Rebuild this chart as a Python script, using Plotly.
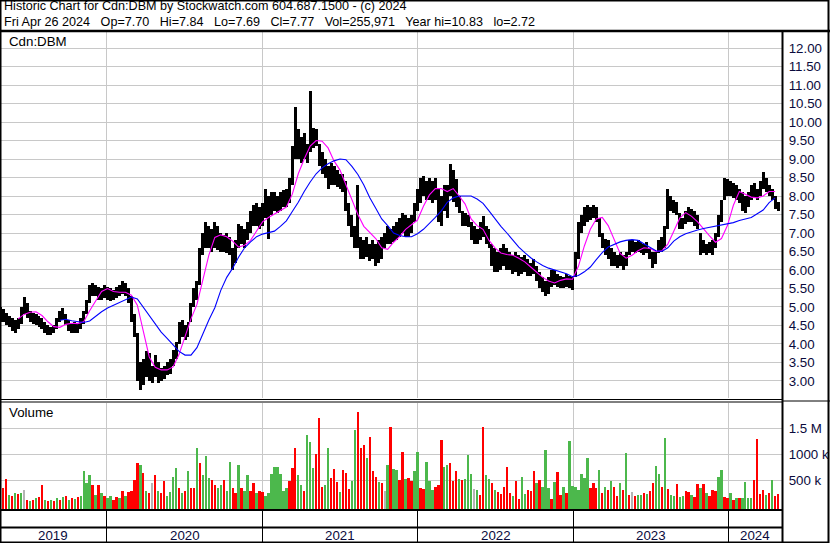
import pandas as pd
import plotly.graph_objects as go

W, H = 830, 543

# weekly bars, Friday closes, Apr 26 2019 .. Apr 26 2024
week_end = pd.date_range("2019-04-26", "2024-04-26", freq="W-FRI")

high = [
    # 2019
    5.0, 4.95, 4.85, 4.75, 4.7, 4.65, 4.7, 5.0, 5.27, 5.1,
    4.9, 4.85, 4.8, 4.75, 4.7, 4.6, 4.5, 4.45, 4.5, 4.7,
    4.9, 4.97, 4.8, 4.65, 4.55, 4.6, 4.55, 4.7, 4.9, 5.2,
    5.6, 5.65, 5.6, 5.55, 5.5, 5.6,
    # 2020
    5.55, 5.5, 5.45, 5.55, 5.6, 5.7, 5.65, 5.5, 5.3, 4.8,
    4.3, 3.5, 3.6, 3.8, 3.75, 3.4, 3.7, 3.5, 3.35, 3.4,
    3.5, 3.6, 3.85, 4.05, 4.6, 4.65, 4.5, 4.6, 5.1, 5.5,
    5.7, 6.6, 7.0, 7.3, 7.2, 7.1, 7.3, 7.2, 7.0, 6.95,
    7.0, 6.9, 6.6, 6.8, 7.25, 7.2, 7.1, 7.3, 7.6, 7.75,
    7.8, 7.7, 7.8,
    # 2021
    8.2, 8.0, 8.1, 8.1, 8.0, 8.1, 8.15, 8.2, 8.5, 9.35,
    10.4, 9.8, 9.6, 9.7, 9.4, 10.83, 9.85, 9.8, 9.4, 9.2,
    9.0, 8.8, 8.9, 8.8, 8.7, 8.6, 8.6, 8.4, 7.8, 7.5,
    7.2, 8.3, 6.9, 6.8, 6.9, 6.7, 6.8, 6.7, 6.8, 6.9,
    7.0, 7.2, 7.1, 7.2, 7.3, 7.4, 7.55, 7.5, 7.4, 7.5,
    7.8,
    # 2022
    8.2, 8.5, 8.55, 8.4, 8.5, 8.4, 8.5, 8.2, 8.0, 8.3,
    8.3, 8.87, 8.7, 8.45, 8.0, 7.6, 7.55, 7.5, 7.3, 7.2,
    7.1, 7.3, 7.45, 7.2, 7.1, 6.7, 6.6, 6.5, 6.6, 6.7,
    6.6, 6.5, 6.4, 6.5, 6.4, 6.35, 6.4, 6.3, 6.2, 6.3,
    6.1, 5.95, 5.8, 5.7, 5.8, 6.0, 6.0, 5.9, 5.85, 5.8,
    5.9, 5.85, 5.8,
    # 2023
    6.5, 7.3, 7.5, 7.7, 7.75, 7.7, 7.75, 7.7, 7.4, 7.0,
    6.85, 6.8, 6.6, 6.5, 6.4, 6.5, 6.4, 6.5, 6.8, 6.8,
    6.75, 6.8, 6.75, 6.7, 6.75, 6.6, 6.5, 6.5, 6.8, 6.9,
    7.2, 8.18, 8.0, 7.9, 7.85, 7.55, 7.4, 7.6, 7.7, 7.65,
    7.6, 7.5, 7.0, 6.8, 6.7, 6.75, 6.8, 7.0, 7.5, 7.9,
    8.5, 8.45,
    # 2024
    8.4, 8.35, 8.3, 8.2, 8.1, 8.0, 8.1, 8.3, 8.35, 8.2,
    8.4, 8.65, 8.5, 8.3, 8.2, 8.0, 7.84,
]

low = [
    # 2019
    4.6, 4.6, 4.5, 4.45, 4.35, 4.3, 4.4, 4.55, 4.8, 4.7,
    4.6, 4.55, 4.5, 4.45, 4.4, 4.3, 4.25, 4.25, 4.3, 4.4,
    4.6, 4.65, 4.5, 4.35, 4.3, 4.3, 4.3, 4.4, 4.55, 4.8,
    5.1, 5.3, 5.3, 5.2, 5.2, 5.25,
    # 2020
    5.2, 5.15, 5.2, 5.25, 5.3, 5.35, 5.3, 5.1, 4.6, 4.2,
    3.0, 2.75, 2.9, 3.1, 3.0, 2.95, 3.1, 2.95, 3.0, 3.05,
    3.15, 3.2, 3.4, 3.6, 4.0, 4.2, 4.1, 4.2, 4.6, 5.0,
    5.2, 5.6, 6.4, 6.6, 6.6, 6.5, 6.6, 6.55, 6.5, 6.5,
    6.45, 6.4, 6.0, 6.2, 6.6, 6.7, 6.6, 6.8, 7.0, 7.2,
    7.2, 7.1, 7.2,
    # 2021
    7.4, 6.85, 7.5, 7.6, 7.55, 7.6, 7.7, 7.7, 7.8, 8.3,
    9.0, 9.0, 8.9, 9.0, 8.9, 9.2, 9.3, 9.35, 8.8, 8.6,
    8.5, 8.2, 8.3, 8.3, 8.25, 8.2, 8.1, 7.6, 7.2, 6.9,
    6.6, 6.6, 6.3, 6.3, 6.35, 6.25, 6.3, 6.1, 6.2, 6.3,
    6.6, 6.7, 6.7, 6.75, 6.8, 6.9, 7.0, 6.9, 6.9, 7.0,
    7.3,
    # 2022
    7.6, 7.8, 8.0, 7.9, 7.9, 7.8, 7.9, 7.3, 7.2, 7.6,
    7.4, 8.0, 7.85, 7.7, 7.55, 7.2, 7.2, 7.15, 6.8, 6.7,
    6.7, 6.8, 6.9, 6.7, 6.6, 6.1, 5.95, 5.95, 6.0, 6.1,
    6.0, 6.0, 5.9, 5.95, 5.85, 5.9, 5.95, 5.85, 5.85, 5.9,
    5.7, 5.5, 5.4, 5.3, 5.35, 5.55, 5.6, 5.55, 5.5, 5.5,
    5.55, 5.5, 5.45,
    # 2023
    5.8, 6.3, 7.0, 7.2, 7.3, 7.35, 7.4, 7.3, 6.9, 6.6,
    6.4, 6.3, 6.1, 6.1, 6.05, 6.1, 6.0, 6.1, 6.4, 6.5,
    6.45, 6.5, 6.45, 6.4, 6.45, 6.3, 6.05, 6.15, 6.45, 6.5,
    6.6, 7.1, 7.6, 7.55, 7.5, 7.1, 7.1, 7.25, 7.3, 7.3,
    7.2, 7.1, 6.4, 6.45, 6.4, 6.45, 6.4, 6.6, 6.9, 7.3,
    7.9, 8.0,
    # 2024
    8.0, 7.95, 7.9, 7.8, 7.6, 7.55, 7.7, 7.9, 7.95, 7.9,
    8.0, 8.2, 8.1, 8.0, 7.9, 7.65, 7.6,
]

# weekly volume, thousands of shares
volume = [
    220, 350, 525, 220, 200, 250, 230, 260, 315, 120,
    110, 130, 150, 180, 400, 120, 100, 130, 110, 150,
    120, 170, 200, 130, 150, 140, 180, 200, 680, 440,
    600, 400, 220, 400, 250, 200, 150, 200, 130, 180,
    150, 300, 200, 280, 300, 500, 830, 795, 640, 300,
    250, 450, 600, 300, 250, 490, 200, 280, 570, 730,
    350, 250, 300, 670, 350, 350, 1130, 830, 600, 970,
    550, 500, 400, 350, 400, 500, 300, 860, 350, 250,
    795, 350, 300, 600, 300, 440, 250, 300, 280, 200,
    250, 620, 760, 760, 620, 300, 350, 490, 730, 1130,
    600, 410, 300, 1370, 1240, 730, 1000, 1690, 380, 400,
    1130, 540, 710, 470, 280, 700, 635, 330, 480, 1470,
    1810, 1130, 1180, 920, 1330, 680, 560, 470, 440, 300,
    800, 1530, 710, 690, 500, 1050, 520, 540, 490, 680,
    1050, 360, 330, 850, 480, 320, 370, 410, 1280, 760,
    790, 840, 480, 670, 530, 500, 520, 990, 620, 330,
    320, 220, 1520, 600, 520, 450, 320, 280, 240, 370,
    760, 250, 190, 480, 140, 560, 240, 310, 300, 670,
    440, 500, 370, 1080, 360, 140, 470, 650, 220, 370,
    250, 1260, 390, 380, 320, 620, 540, 920, 350, 450,
    350, 690, 250, 380, 320, 480, 380, 200, 450, 320,
    1030, 220, 280, 200, 220, 220, 250, 230, 300, 440,
    780, 630, 380, 1320, 330, 220, 200, 420, 180, 200,
    290, 280, 220, 180, 420, 350, 420, 250, 200, 320,
    300, 570, 700, 180, 150, 250, 130, 150, 160, 150,
    470, 160, 150, 505, 1300, 230, 320, 220, 250, 500,
    200, 230,
]

# g = up week, r = down week, n = unchanged
vol_dir = (
    "grrgrgrgnr" "grgrrgrgrg" "rgrgrgrggg" "grgrgrggrr" "grgrrrrgrg"
    "rnrgrrgggg" "rgrgrrgrgg" "grrggrggrr" "grggrrgrrg" "gggggggrrr"
    "ggrgggrrrg" "grrrgrrrgg" "rrrgrrrgrn" "grggrrgrrg" "grrgggrrrg"
    "grrrgrgggn" "grrggrgrrr" "rrgrrggrrr" "grgggrgrrg" "rgggggggrr"
    "rgrgrgrrgr" "grnrggrgrr" "ggrgrggrgg" "rrgrrgrgrr" "rggrrgrgrg"
    "gggrrrrgrg" "rr"
)

# moving averages, read every second week
ma_fast = [
    None, None, None, 4.68, 4.8, 4.86, 4.87, 4.77, 4.6, 4.47,
    4.45, 4.53, 4.56, 4.55, 4.6, 4.9, 5.15, 5.42, 5.5, 5.42,
    5.4, 5.4, 5.32, 5.05, 4.35, 3.65, 3.37, 3.3, 3.3, 3.38,
    3.72, 4.2, 4.68, 5.07, 5.75, 6.4, 6.88, 6.95, 6.9, 6.78,
    6.62, 6.67, 6.8, 7.05, 7.3, 7.42, 7.52, 7.62, 7.7, 8.05,
    8.6, 9.0, 9.35, 9.5, 9.48, 9.3, 8.95, 8.7, 8.3, 7.88,
    7.5, 7.18, 7.0, 6.85, 6.6, 6.56, 6.75, 6.9, 7.1, 7.22,
    7.35, 7.72, 8.03, 8.2, 8.2, 8.12, 8.2, 8.0, 7.78, 7.38,
    7.2, 7.1, 6.8, 6.6, 6.46, 6.42, 6.4, 6.32, 6.22, 6.08,
    5.95, 5.8, 5.7, 5.65, 5.72, 5.76, 5.75, 6.1, 6.65, 7.1,
    7.38, 7.42, 7.2, 6.8, 6.45, 6.32, 6.4, 6.52, 6.6, 6.58,
    6.5, 6.52, 6.7, 7.05, 7.4, 7.55, 7.45, 7.3, 7.1, 6.92,
    6.75, 6.85, 7.2, 7.75, 8.12, 8.05, 7.97, 7.95, 8.0, 8.12,
    8.12,
]
ma_slow = [
    None, None, None, None, None, None, None, None, None, None,
    4.64, 4.67, 4.63, 4.6, 4.58, 4.62, 4.75, 4.87, 4.97, 5.05,
    5.13, 5.21, 5.27, 5.22, 5.0, 4.77, 4.53, 4.32, 4.15, 3.97,
    3.8, 3.7, 3.7, 3.9, 4.3, 4.65, 4.98, 5.45, 5.8, 6.05,
    6.35, 6.6, 6.76, 6.9, 6.97, 7.0, 7.05, 7.18, 7.33, 7.58,
    7.83, 8.12, 8.38, 8.6, 8.76, 8.87, 8.95, 9.0, 8.98, 8.8,
    8.58, 8.3, 7.95, 7.67, 7.38, 7.2, 7.0, 6.93, 6.9, 6.9,
    6.98, 7.1, 7.25, 7.42, 7.6, 7.83, 7.95, 8.0, 8.0, 8.0,
    7.92, 7.8, 7.6, 7.38, 7.18, 7.0, 6.8, 6.62, 6.47, 6.33,
    6.22, 6.12, 6.05, 6.0, 5.97, 5.9, 5.82, 5.85, 5.95, 6.08,
    6.28, 6.47, 6.62, 6.7, 6.76, 6.8, 6.82, 6.8, 6.7, 6.6,
    6.52, 6.5, 6.6, 6.78, 6.9, 6.98, 7.04, 7.08, 7.12, 7.15,
    7.18, 7.2, 7.24, 7.28, 7.34, 7.38, 7.42, 7.52, 7.62, 7.82,
    7.95,
]

price_ticks = [3.0 + 0.5 * i for i in range(19)]
vol_ticks = [500, 1000, 1500]
vol_tick_text = ["500 k", "1000 k", "1.5 M"]
years = [2019, 2020, 2021, 2022, 2023, 2024]

title1 = "Historic Chart for Cdn:DBM by Stockwatch.com 604.687.1500 - (c) 2024"
title2 = ("Fri Apr 26 2024\u00a0\u00a0 Op=7.70\u00a0\u00a0 Hi=7.84\u00a0\u00a0 Lo=7.69\u00a0\u00a0 "
          "Cl=7.77\u00a0\u00a0 Vol=255,971\u00a0\u00a0 Year hi=10.83\u00a0\u00a0 lo=2.72")

assert len(high) == len(low) == len(volume) == len(vol_dir) == len(week_end)
assert len(ma_fast) == len(ma_slow) == len(week_end[::2])

FONT = "Liberation Sans, Arial, sans-serif"
GRID = "#c8c8c8"
TICK_COL = "#0a0a3c"
x_start = pd.Timestamp("2019-04-25 10:00")
x_end = pd.Timestamp("2024-05-05 05:00")


def px(v):
    return v / W


def py(v):
    return 1 - v / H


year_starts = [pd.Timestamp(f"{y}-01-01") for y in years[1:]]
dir_color = {"g": "#4cb84c", "r": "#ff0000", "n": "#b4b4b4"}
vol_colors = [dir_color[c] for c in vol_dir]
week_ms = 7 * 24 * 3600 * 1000

fig = go.Figure()

# price range bars
fig.add_trace(go.Bar(
    x=week_end, y=[h - l for h, l in zip(high, low)], base=low,
    width=week_ms, marker=dict(color="black", line=dict(width=0)),
    xaxis="x", yaxis="y", hoverinfo="skip",
))
fig.add_trace(go.Scatter(
    x=week_end[::2], y=ma_fast, mode="lines", line=dict(color="#ff00ff", width=1.1),
    xaxis="x", yaxis="y", connectgaps=False,
))
fig.add_trace(go.Scatter(
    x=week_end[::2], y=ma_slow, mode="lines", line=dict(color="#0000ff", width=1.1),
    xaxis="x", yaxis="y", connectgaps=False,
))

# volume
fig.add_trace(go.Bar(
    x=week_end, y=[v + 60 for v in volume], base=-60,
    width=0.8 * week_ms, marker=dict(color=vol_colors, line=dict(width=0)),
    xaxis="x2", yaxis="y2",
))

# year labels in the bottom band
labels_x = []
for y in years:
    a = max(pd.Timestamp(f"{y}-01-01"), x_start)
    b = min(pd.Timestamp(f"{y + 1}-01-01"), x_end)
    labels_x.append(a + (b - a) / 2)

annotations = [
    dict(x=px(3), y=py(14), text=title1 + "<br>" + title2, font_size=12.6, align="left"),
    dict(x=px(8), y=py(41), text="Cdn:DBM"),
    dict(x=px(8), y=py(413), text="Volume"),
]
for a in annotations:
    size = a.pop("font_size", 13.3)
    a.update(xref="paper", yref="paper", xanchor="left", yanchor="middle",
             showarrow=False, borderpad=0,
             font=dict(family=FONT, size=size, color="black"))
for lx, y in zip(labels_x, years):
    annotations.append(dict(x=lx, y=py(535), xref="x3", yref="paper", text=str(y),
                            showarrow=False, xanchor="center", yanchor="middle",
                            font=dict(family=FONT, size=13.3, color=TICK_COL)))


def hline(y, x0=0, x1=782, w=1.0):
    return dict(type="line", xref="paper", yref="paper", x0=px(x0), x1=px(x1),
                y0=py(y), y1=py(y), line=dict(color="black", width=w))


shapes = [
    hline(31, 0, 830, 2.5),
    hline(399.5), hline(402), hline(401, 782, 830),
    hline(510, w=2), hline(527.5, w=2),
    dict(type="line", xref="paper", yref="paper", x0=px(782.5), x1=px(782.5),
         y0=py(31), y1=py(543), line=dict(color="black", width=2)),
    dict(type="rect", xref="paper", yref="paper", x0=px(0.5), x1=px(828.5),
         y0=py(542.5), y1=py(0.5), line=dict(color="black", width=2)),
]

xcommon = dict(domain=[0, px(782)], range=[x_start, x_end], type="date",
               tickvals=year_starts, showticklabels=False, ticks="",
               showgrid=True, gridcolor=GRID, gridwidth=1, zeroline=False, showline=False)

fig.update_layout(
    width=W, height=H, margin=dict(l=0, r=0, t=0, b=0, autoexpand=False),
    paper_bgcolor="white", plot_bgcolor="white", showlegend=False,
    barmode="overlay", bargap=0,
    font=dict(family=FONT, size=13.3, color=TICK_COL),
    xaxis=dict(anchor="y", **xcommon),
    xaxis2=dict(anchor="y2", matches="x", **xcommon),
    xaxis3=dict(anchor="y3", matches="x", **{**xcommon, "gridcolor": "black"}),
    yaxis=dict(domain=[py(398), py(31)], range=[2.54, 12.46], anchor="x", side="right",
               tickvals=price_ticks, ticktext=[f"{t:.2f}" for t in price_ticks],
               showgrid=True, gridcolor=GRID, zeroline=False, showline=False,
               ticks="outside", ticklen=3, tickcolor="rgba(0,0,0,0)",
               tickfont=dict(family=FONT, size=13.3, color=TICK_COL)),
    yaxis2=dict(domain=[py(509), py(403)], range=[-52, 1986], anchor="x2", side="right",
                tickvals=vol_ticks, ticktext=vol_tick_text,
                showgrid=True, gridcolor=GRID, zeroline=False, showline=False,
                ticks="outside", ticklen=3, tickcolor="rgba(0,0,0,0)",
                tickfont=dict(family=FONT, size=13.3, color=TICK_COL)),
    yaxis3=dict(domain=[0, py(510)], range=[0, 1], visible=False, fixedrange=True),
    annotations=annotations, shapes=shapes,
)

fig.write_html("out.html", config={"displayModeBar": False},
               post_script="document.body.style.margin='0';")
